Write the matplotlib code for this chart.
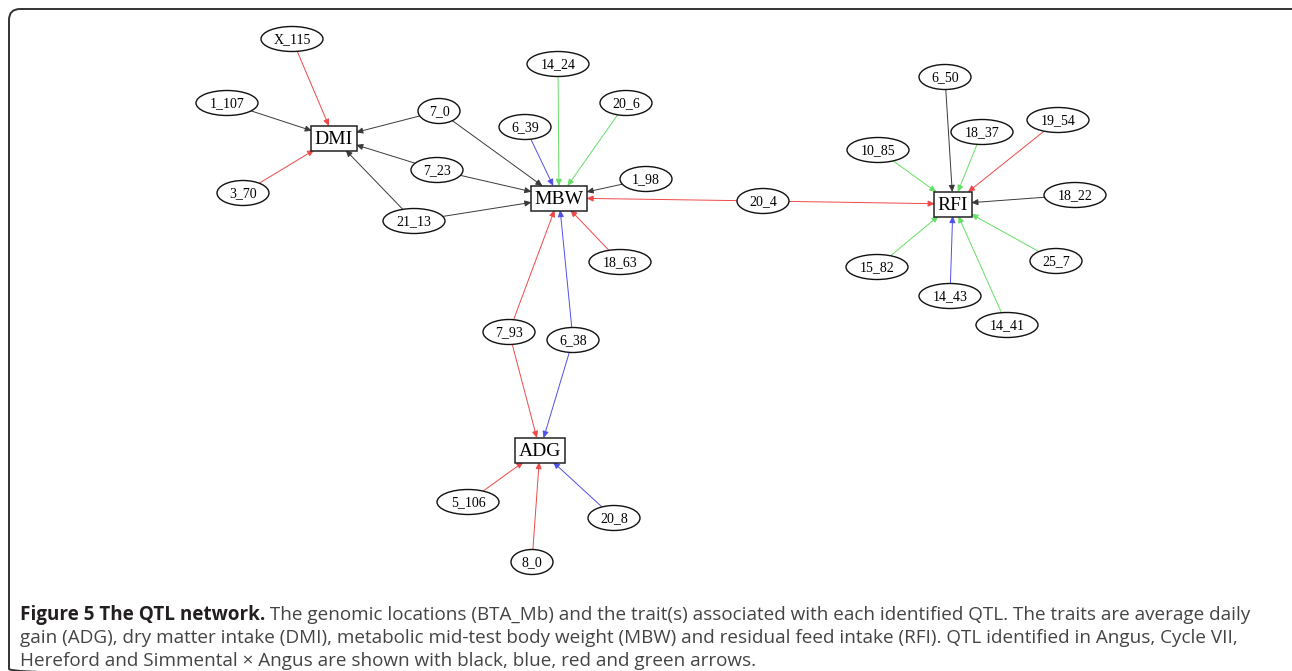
import matplotlib
matplotlib.use("Agg")
import matplotlib.pyplot as plt
from matplotlib.patches import Ellipse, Rectangle, FancyArrowPatch, FancyBboxPatch

# trait nodes (boxes) and QTL nodes (ellipses, BTA_Mb)
traits = ["DMI", "MBW", "RFI", "ADG"]
qtls = ["X_115", "1_107", "3_70", "7_0", "7_23", "21_13", "14_24", "20_6",
        "6_39", "1_98", "18_63", "20_4", "6_50", "18_37", "19_54", "10_85",
        "18_22", "15_82", "25_7", "14_43", "14_41", "7_93", "6_38", "5_106",
        "20_8", "8_0"]

breeds = ["Angus", "Cycle VII", "Hereford", "Simmental x Angus"]

# edges: qtl -> trait, identified in breed
edge_src = ["X_115", "1_107", "3_70", "7_0", "7_23", "21_13",
            "7_0", "7_23", "21_13", "6_39", "14_24", "20_6", "1_98", "20_4",
            "18_63", "7_93", "6_38",
            "20_4", "6_50", "18_37", "19_54", "10_85", "18_22", "15_82",
            "25_7", "14_43", "14_41",
            "7_93", "6_38", "5_106", "8_0", "20_8"]
edge_dst = ["DMI"] * 6 + ["MBW"] * 11 + ["RFI"] * 10 + ["ADG"] * 5
edge_breed = ["Hereford", "Angus", "Hereford", "Angus", "Angus", "Angus",
              "Angus", "Angus", "Angus", "Cycle VII", "Simmental x Angus",
              "Simmental x Angus", "Angus", "Hereford", "Hereford", "Hereford",
              "Cycle VII",
              "Hereford", "Angus", "Simmental x Angus", "Hereford",
              "Simmental x Angus", "Angus", "Simmental x Angus",
              "Simmental x Angus", "Cycle VII", "Simmental x Angus",
              "Hereford", "Cycle VII", "Hereford", "Hereford", "Cycle VII"]

# layout (pixel positions of the drawing)
layout = {
    "DMI": (334, 138), "MBW": (559, 198), "RFI": (953, 204), "ADG": (540, 450),
    "X_115": (292, 39), "1_107": (227, 103), "3_70": (243, 193),
    "7_0": (439, 111), "7_23": (437, 170), "21_13": (414, 221),
    "14_24": (558, 64), "20_6": (626, 103), "6_39": (525, 127),
    "1_98": (646, 179), "18_63": (620, 262), "20_4": (763, 201),
    "6_50": (945, 77), "18_37": (982, 132), "19_54": (1058, 120),
    "10_85": (878, 150), "18_22": (1075, 195), "15_82": (877, 267),
    "25_7": (1056, 261), "14_43": (950, 296), "14_41": (1007, 325),
    "7_93": (509, 332), "6_38": (573, 340), "5_106": (468, 502),
    "20_8": (614, 518), "8_0": (532, 562),
}
breed_color = {"Angus": "#3a3a3a", "Cycle VII": "#5050e8",
               "Hereford": "#f04848", "Simmental x Angus": "#66dd66"}

W, H = 1292, 671
fig = plt.figure(figsize=(W / 100, H / 100), dpi=100)
ax = fig.add_axes([0, 0, 1, 1])
ax.set_xlim(0, W)
ax.set_ylim(H, 0)
ax.axis("off")

# outer frame (right and bottom sides run off the picture)
frame = FancyBboxPatch((9, 9), 1294, 671, boxstyle="round,pad=0,rounding_size=11",
                       fc="none", ec="#333333", lw=1.4)
ax.add_patch(frame)

fig.canvas.draw()
r = fig.canvas.get_renderer()

patches = {}
for t in traits:
    x, y = layout[t]
    txt = ax.text(x, y + 1, t, ha="center", va="center", fontsize=14,
                  family="Liberation Serif", zorder=5)
    bb = txt.get_window_extent(r)
    w = bb.width + 7
    p = Rectangle((x - w / 2, y - 12.5), w, 25, fc="white", ec="#222222",
                  lw=1.1, zorder=4)
    ax.add_patch(p)
    patches[t] = p

for q in qtls:
    x, y = layout[q]
    ax.text(x, y + 0.5, q, ha="center", va="center", fontsize=10,
            family="Liberation Serif", zorder=5)
    p = Ellipse((x, y), 12 + 10 * len(q), 25, fc="white", ec="#111111",
                lw=1.0, zorder=4)
    ax.add_patch(p)
    patches[q] = p

for s, d, b in zip(edge_src, edge_dst, edge_breed):
    a = FancyArrowPatch(layout[s], layout[d], patchA=patches[s], patchB=patches[d],
                        shrinkA=0, shrinkB=0,
                        arrowstyle="-|>,head_length=0.4,head_width=0.18",
                        mutation_scale=10, color=breed_color[b], lw=0.7,
                        zorder=2)
    ax.add_patch(a)

# caption
cap_bold = "Figure 5 The QTL network."
cap1 = (" The genomic locations (BTA_Mb) and the trait(s) associated with each "
        "identified QTL. The traits are average daily")
cap2 = ("gain (ADG), dry matter intake (DMI), metabolic mid-test body weight (MBW) "
        "and residual feed intake (RFI). QTL identified in Angus, Cycle VII,")
cap3 = "Hereford and Simmental \u00d7 Angus are shown with black, blue, red and green arrows."
fam = ["Open Sans", "DejaVu Sans"]

size = 11.0
tb = ax.text(20, 620, cap_bold, fontsize=size, weight="bold", family=fam,
             color="#231f20", va="baseline")
t1 = ax.text(0, 620, cap1, fontsize=size, family=fam, color="#444444", va="baseline")
wb = tb.get_window_extent(r).width
w1 = t1.get_window_extent(r).width
size = size * 1232 / (wb + w1)
tb.set_fontsize(size)
t1.set_fontsize(size)
wb = tb.get_window_extent(r).width
t1.set_x(20 + wb)
ax.text(20, 643, cap2, fontsize=size, family=fam, color="#444444", va="baseline")
ax.text(20, 666, cap3, fontsize=size, family=fam, color="#444444", va="baseline")

fig.savefig("out.png", dpi=100, facecolor="white")
